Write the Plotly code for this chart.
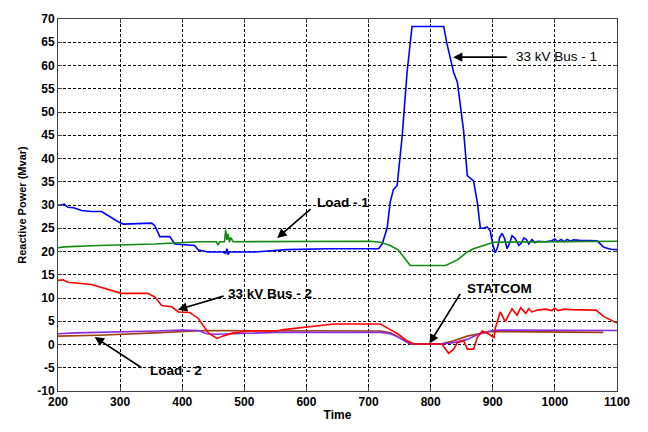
import plotly.graph_objects as go

# ---------------- data ----------------
bus1_t = [200, 205, 210, 216, 225, 238, 254, 270, 297, 305, 351, 356, 364, 380, 388, 420, 426, 442, 465, 470, 472, 474, 476, 480, 517, 568, 635, 716, 722, 730, 735, 740, 746, 754, 762, 770, 821, 826, 837, 843, 853, 859, 869, 875, 880, 885, 891, 896, 900, 904, 908, 911, 915, 919, 923, 927, 931, 936, 942, 946, 950, 954, 958, 963, 968, 972, 985, 995, 1000, 1005, 1010, 1015, 1020, 1025, 1030, 1040, 1068, 1079, 1090, 1100]
bus1_v = [30.0, 30.0, 30.2, 29.5, 29.4, 28.8, 28.6, 28.6, 26.4, 25.9, 26.1, 25.5, 23.2, 23.2, 21.6, 21.3, 20.3, 19.9, 19.9, 19.6, 20.6, 19.3, 19.9, 19.9, 19.9, 20.4, 20.6, 20.6, 21.6, 25.1, 30.7, 33.3, 34.2, 44.6, 58.5, 68.4, 68.4, 64.8, 58.5, 56.4, 46.0, 36.3, 35.2, 30.7, 25.0, 25.0, 25.3, 24.4, 21.5, 19.7, 21.0, 23.0, 23.9, 22.8, 20.6, 21.8, 23.4, 22.8, 21.3, 21.8, 22.9, 22.6, 21.6, 22.6, 21.9, 22.2, 22.1, 22.3, 22.7, 22.1, 22.6, 22.1, 22.6, 22.2, 22.5, 22.4, 22.3, 20.9, 20.5, 20.4]

load1_t = [200, 210, 265, 356, 426, 455, 458, 460, 468, 470, 472, 474, 476, 478, 482, 490, 703, 719, 735, 748, 767, 824, 843, 859, 869, 885, 902, 1100]
load1_v = [20.8, 21.0, 21.3, 21.6, 22.1, 22.1, 21.4, 22.1, 22.1, 24.6, 22.5, 23.8, 22.0, 23.0, 22.1, 22.1, 22.2, 22.0, 21.3, 20.3, 17.0, 17.0, 18.2, 19.9, 20.6, 21.3, 22.0, 22.2]

bus2_t = [200, 208, 216, 238, 254, 302, 345, 356, 367, 383, 394, 412, 426, 442, 456, 465, 482, 509, 552, 563, 633, 644, 687, 719, 735, 748, 762, 773, 818, 823, 829, 837, 843, 853, 859, 869, 875, 883, 894, 902, 904, 912, 920, 931, 939, 945, 953, 958, 963, 972, 985, 995, 1000, 1005, 1015, 1025, 1040, 1066, 1079, 1090, 1100]
bus2_v = [13.8, 13.9, 13.4, 13.2, 12.9, 11.0, 11.0, 10.2, 8.4, 8.1, 7.0, 6.9, 5.6, 2.5, 1.3, 1.8, 2.5, 2.9, 2.9, 3.2, 4.2, 4.4, 4.4, 4.4, 3.2, 2.2, 0.8, 0.1, 0.1, -0.8, -1.9, -1.0, 0.4, 0.8, -1.0, -1.0, 1.5, 2.9, 2.2, 1.5, 3.5, 7.0, 4.9, 7.7, 6.3, 7.9, 6.7, 7.7, 7.0, 7.4, 7.6, 7.3, 7.8, 7.3, 7.6, 7.5, 7.5, 7.4, 6.0, 5.3, 4.6]

load2_t = [200, 265, 356, 437, 720, 735, 746, 767, 816, 837, 859, 875, 896, 1078]
load2_v = [1.8, 2.0, 2.5, 3.0, 2.9, 2.5, 1.8, 0.1, 0.1, 0.8, 1.8, 2.3, 2.8, 2.6]

statcom_t = [200, 229, 356, 399, 426, 439, 456, 485, 550, 720, 735, 746, 767, 816, 837, 859, 875, 896, 910, 1100]
statcom_v = [2.3, 2.5, 2.9, 3.1, 3.0, 2.3, 2.2, 2.3, 2.6, 2.6, 2.3, 1.7, 0.1, 0.1, 0.4, 1.1, 2.1, 2.9, 3.1, 3.0]

x_ticks = [200, 300, 400, 500, 600, 700, 800, 900, 1000, 1100]
y_ticks = [-10, -5, 0, 5, 10, 15, 20, 25, 30, 35, 40, 45, 50, 55, 60, 65, 70]

# labels: (text, text_x, text_y, arrow_head_x, arrow_head_y, arrow_tail_x, arrow_tail_y, bold)
labels = [
    ("33 kV Bus - 1", 934, 62.0, 836, 61.8, 925, 61.8, False),
    ("Load - 1", 613, 30.5, 553, 22.9, 609, 29.4, True),
    ("33 kV Bus - 2", 470, 11.0, 393, 7.5, 469, 10.5, True),
    ("Load - 2", 345, -5.6, 259, 1.6, 337, -5.2, True),
    ("STATCOM", 856, 12.0, 798, 0.2, 849, 11.2, True),
]

FONT = "Liberation Sans, Arial, sans-serif"

# ---------------- figure ----------------
fig = go.Figure()
fig.add_trace(go.Scatter(x=bus1_t, y=bus1_v, mode="lines", line=dict(color="#0000FF", width=1.6), name="33 kV Bus - 1"))
fig.add_trace(go.Scatter(x=load1_t, y=load1_v, mode="lines", line=dict(color="#128A12", width=1.6), name="Load - 1"))
fig.add_trace(go.Scatter(x=load2_t, y=load2_v, mode="lines", line=dict(color="#A0400F", width=1.6), name="Load - 2"))
fig.add_trace(go.Scatter(x=statcom_t, y=statcom_v, mode="lines", line=dict(color="#8A2BE2", width=1.6), name="STATCOM"))
fig.add_trace(go.Scatter(x=bus2_t, y=bus2_v, mode="lines", line=dict(color="#FF0000", width=1.6), name="33 kV Bus - 2"))

for text, tx, ty, hx, hy, ax, ay, bold in labels:
    fig.add_annotation(x=hx, y=hy, ax=ax, ay=ay, xref="x", yref="y", axref="x", ayref="y",
                       text="", showarrow=True, arrowhead=2, arrowsize=1.1, arrowwidth=1.7,
                       arrowcolor="black")
    fig.add_annotation(x=tx, y=ty, xref="x", yref="y", text=text, showarrow=False,
                       xanchor="left", yanchor="middle",
                       font=dict(family=FONT, size=13.5, color="black",
                                 weight="bold" if bold else "normal"))

axis_common = dict(
    showgrid=True, gridcolor="black", gridwidth=1, griddash="3px,2px",
    zeroline=False, showline=True, linecolor="#444444", linewidth=1, mirror="ticks",
    ticks="inside", ticklen=4, tickcolor="#444444",
    tickfont=dict(family=FONT, size=12, color="black", weight="bold"),
)

fig.update_xaxes(range=[200, 1100], tickvals=x_ticks, ticktext=[str(v) for v in x_ticks],
                 title=dict(text="Time", standoff=2,
                            font=dict(family=FONT, size=12, color="black", weight="bold")),
                 **axis_common)
fig.update_yaxes(range=[-10, 70], tickvals=y_ticks, ticktext=[str(v) for v in y_ticks],
                 title=dict(text="Reactive Power (Mvar)", standoff=8,
                            font=dict(family=FONT, size=11, color="black", weight="bold")),
                 **axis_common)

fig.update_layout(width=648, height=432, margin=dict(l=58, r=31, t=12, b=37),
                  paper_bgcolor="white", plot_bgcolor="white", showlegend=False)

fig.write_html("out.html")
